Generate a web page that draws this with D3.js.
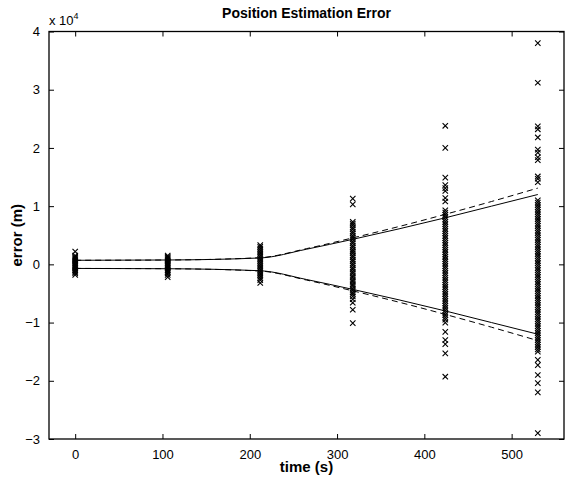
<!DOCTYPE html>
<html>
<head>
<meta charset="utf-8">
<script src="https://cdn.jsdelivr.net/npm/d3@7"></script>
<style>
  body { margin: 0; background: #fff; }
  svg { display: block; font-family: "Liberation Sans", Arial, Helvetica, sans-serif; }
</style>
</head>
<body>
<svg width="567" height="487"></svg>
<script>
// Measurement times (s).
const times = [0, 106, 212, 318, 424, 530];

// Position errors at each time, in units of 1e4 m.
const err0 = [0.22, 0.15, 0.13, 0.11, 0.09, 0.07, 0.05, 0.03, 0.01, -0.01, -0.03, -0.05, -0.07,
  -0.09, -0.11, -0.13, -0.15, -0.18];
const err106 = [0.15, 0.13, 0.11, 0.09, 0.07, 0.05, 0.03, 0.01, -0.01, -0.03, -0.05, -0.07, -0.09,
  -0.11, -0.13, -0.15, -0.18, -0.22];
const err212 = [0.33, 0.3, 0.27, 0.24, 0.21, 0.18, 0.15, 0.12, 0.09, 0.06, 0.03, 0.0, -0.03, -0.06,
  -0.09, -0.12, -0.15, -0.18, -0.21, -0.24, -0.27, -0.32];
const err318 = [1.13, 1.03, 0.73, 0.7, 0.67, 0.63, 0.6, 0.56, 0.53, 0.49, 0.46, 0.43, 0.39, 0.36,
  0.32, 0.29, 0.25, 0.22, 0.19, 0.15, 0.12, 0.08, 0.05, 0.01, -0.02, -0.06, -0.09, -0.13, -0.16,
  -0.2, -0.23, -0.27, -0.3, -0.34, -0.37, -0.41, -0.44, -0.48, -0.51, -0.55, -0.6, -0.66, -0.78, -1.01];
const err424 = [2.38, 2.0, 1.49, 1.36, 1.31, 1.26, 1.14, 1.08, 0.93, 0.89, 0.85, 0.81, 0.77, 0.73,
  0.69, 0.65, 0.61, 0.57, 0.53, 0.49, 0.45, 0.41, 0.37, 0.33, 0.29, 0.25, 0.21, 0.17, 0.13, 0.09,
  0.05, 0.01, -0.03, -0.07, -0.11, -0.15, -0.19, -0.23, -0.27, -0.31, -0.35, -0.39, -0.43, -0.47,
  -0.51, -0.55, -0.59, -0.63, -0.67, -0.71, -0.75, -0.79, -0.83, -0.87, -0.91, -0.95, -1.0, -1.16,
  -1.3, -1.37, -1.53, -1.93];
const err530 = [3.8, 3.12, 2.37, 2.32, 2.18, 1.97, 1.92, 1.84, 1.79, 1.51, 1.47, 1.41, 1.1, 1.06,
  1.02, 0.98, 0.94, 0.9, 0.86, 0.82, 0.78, 0.74, 0.7, 0.66, 0.62, 0.58, 0.54, 0.5, 0.46, 0.42, 0.38,
  0.34, 0.3, 0.26, 0.22, 0.18, 0.14, 0.1, 0.06, 0.02, -0.02, -0.06, -0.1, -0.14, -0.18, -0.22,
  -0.26, -0.3, -0.34, -0.38, -0.42, -0.46, -0.5, -0.54, -0.58, -0.62, -0.66, -0.7, -0.74, -0.78,
  -0.82, -0.86, -0.9, -0.94, -0.98, -1.02, -1.06, -1.1, -1.14, -1.18, -1.22, -1.26, -1.3, -1.34,
  -1.38, -1.42, -1.46, -1.5, -1.64, -1.73, -1.9, -2.04, -2.2, -2.9];
const errors = [err0, err106, err212, err318, err424, err530];

// Error bounds (1e4 m), drawn as +/- curves.
const boundTimes = [0, 106, 212, 265, 318, 371, 424, 477, 530];
const boundSolid = [0.07, 0.075, 0.11, 0.26, 0.43, 0.61, 0.8, 1.0, 1.2];
const boundDashed = [0.07, 0.075, 0.115, 0.27, 0.455, 0.65, 0.86, 1.08, 1.31];

// Axis ticks.
const xTicks = [0, 100, 200, 300, 400, 500];
const yTicks = [-3, -2, -1, 0, 1, 2, 3, 4];

const svg = d3.select("svg");
const margin = { left: 49, right: 3, top: 31.5, bottom: 48 };
const width = 567, height = 487;

const x = d3.scaleLinear().domain([-30, 560]).range([margin.left, width - margin.right]);
const y = d3.scaleLinear().domain([-3, 4]).range([height - margin.bottom, margin.top]);

const tickLen = 5;
const fmt = d => d < 0 ? "\u2212" + Math.abs(d) : String(d);

// Axes: ticks inward on all four sides (MATLAB box style).
function styleAxis(g) {
  g.select(".domain").remove();
  g.selectAll("line").attr("stroke", "#000").attr("stroke-width", 1);
  g.selectAll("text").attr("font-size", 13).attr("fill", "#000");
}

svg.append("g")
  .attr("transform", `translate(0,${y(-3)})`)
  .call(d3.axisBottom(x).tickValues(xTicks).tickSizeInner(-tickLen).tickSizeOuter(0).tickPadding(11).tickFormat(fmt))
  .call(styleAxis);
svg.append("g")
  .attr("transform", `translate(0,${y(4)})`)
  .call(d3.axisTop(x).tickValues(xTicks).tickSizeInner(-tickLen).tickSizeOuter(0).tickFormat(""))
  .call(styleAxis);
svg.append("g")
  .attr("transform", `translate(${x(-30)},0)`)
  .call(d3.axisLeft(y).tickValues(yTicks).tickSizeInner(-tickLen).tickSizeOuter(0).tickPadding(9).tickFormat(fmt))
  .call(styleAxis);
svg.append("g")
  .attr("transform", `translate(${x(560)},0)`)
  .call(d3.axisRight(y).tickValues(yTicks).tickSizeInner(-tickLen).tickSizeOuter(0).tickFormat(""))
  .call(styleAxis);

// Plot frame.
svg.append("rect")
  .attr("x", x(-30)).attr("y", y(4))
  .attr("width", x(560) - x(-30)).attr("height", y(-3) - y(4))
  .attr("fill", "none").attr("stroke", "#000").attr("stroke-width", 1.3);

// Scatter of errors as "x" markers.
const points = [];
times.forEach((t, i) => errors[i].forEach(v => points.push({ t, v })));
const m = 2.7;
svg.append("g")
  .selectAll("path")
  .data(points)
  .join("path")
  .attr("d", d => {
    const cx = x(d.t), cy = y(d.v);
    return `M${cx - m},${cy - m}L${cx + m},${cy + m}M${cx - m},${cy + m}L${cx + m},${cy - m}`;
  })
  .attr("stroke", "#000")
  .attr("stroke-width", 1.1)
  .attr("fill", "none");

// Bound curves.
const line = d3.line().x(d => x(d[0])).y(d => y(d[1])).curve(d3.curveMonotoneX);
const bounds = [
  { vals: boundSolid, dash: null },
  { vals: boundDashed, dash: "6,4" }
];
bounds.forEach(b => {
  [1, -1].forEach(s => {
    svg.append("path")
      .datum(boundTimes.map((t, i) => [t, s * b.vals[i]]))
      .attr("d", line)
      .attr("fill", "none")
      .attr("stroke", "#000")
      .attr("stroke-width", 1)
      .attr("stroke-dasharray", b.dash);
  });
});

// Exponent label.
const expo = svg.append("text").attr("x", x(-30)).attr("y", 25).attr("font-size", 13);
expo.append("tspan").text("x 10");
expo.append("tspan").attr("font-size", 9).attr("dy", -6).text("4");

// Title and axis labels.
svg.append("text")
  .attr("x", (x(-30) + x(560)) / 2).attr("y", 18)
  .attr("text-anchor", "middle").attr("font-size", 14).attr("font-weight", "bold")
  .text("Position Estimation Error");
svg.append("text")
  .attr("x", (x(-30) + x(560)) / 2).attr("y", 472)
  .attr("text-anchor", "middle").attr("font-size", 15).attr("font-weight", "bold")
  .text("time (s)");
svg.append("text")
  .attr("transform", `translate(22,${(y(4) + y(-3)) / 2}) rotate(-90)`)
  .attr("text-anchor", "middle").attr("font-size", 15).attr("font-weight", "bold")
  .text("error (m)");
</script>
</body>
</html>
